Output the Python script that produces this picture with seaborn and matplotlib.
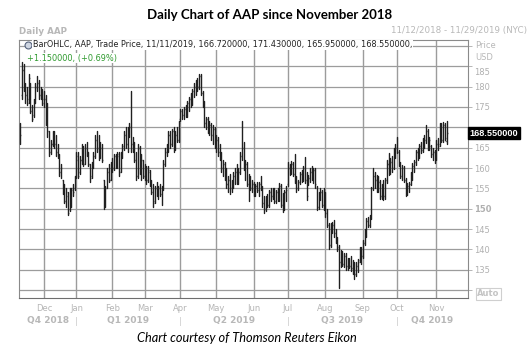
import numpy as np
import pandas as pd
import matplotlib
matplotlib.use("Agg")
import matplotlib.pyplot as plt
import matplotlib.transforms as mtransforms
import seaborn as sns

# ---------------- data ----------------
holidays = ["2018-11-22", "2018-12-05", "2018-12-25", "2019-01-01", "2019-01-21",
            "2019-02-18", "2019-04-19", "2019-05-27", "2019-07-04", "2019-09-02"]

opens = [169, 178, 184, 180, 178, 177, 180, 174, 173, 176, 180, 181, 178, 179,
         177, 177, 171, 169, 164, 166, 168, 166, 164, 163, 159, 157, 154, 152, 153, 150, 153, 155, 155,
         158, 162, 159, 162, 165, 161, 165, 164, 161, 158, 161, 163, 167, 165, 163, 165, 157, 151, 155, 159, 157,
         161, 160, 163, 161, 163, 159, 164, 165, 168, 166, 168, 170, 166, 165, 162, 158, 165, 159, 162,
         158, 160, 157, 159, 156, 154, 152, 155, 154, 155, 153.5, 155, 161, 164, 165, 168, 166, 169, 165, 168, 167,
         172, 174, 173, 174.5, 173, 176, 177, 176, 179, 180, 181, 180, 182.5, 178.5, 176, 171, 172, 169, 170.5, 168, 169.5,
         166, 167, 164, 163, 160, 161, 158, 156, 157, 155, 156.5, 158, 159, 157, 159, 163, 165, 160, 161, 156, 157, 155,
         156, 154, 155.5, 154.5, 156, 155, 151.5, 150, 152, 151, 154, 153, 154.5, 152, 154, 153, 155.5, 151, 150, 154,
         156, 160, 159, 161, 158.5, 157, 155, 156.5, 158.5, 157, 160, 157, 156, 157.5, 159, 158, 159.5, 155, 150.5, 153.5, 154, 151,
         153, 149, 146, 141, 145.5, 146, 144, 142, 140, 137, 138, 136.5, 138.5, 136, 137.5, 136, 135.5, 136.5, 134, 136, 137.5, 140,
         138.5, 141.5, 144.5, 147, 146, 148, 155, 158, 157, 155, 156.5, 153, 155.5, 153, 157, 161, 159, 161.5, 160, 164,
         165, 164, 161, 158, 160, 157, 154, 155.5, 156, 158.5, 160.5, 161.5, 164, 163, 165.5, 164.5, 166.5, 167, 169, 165, 165.5, 163.5, 164,
         162.5, 166, 166, 170, 167, 170.5, 166.72]

highs = [171, 186, 185.5, 181, 180, 183, 181, 175.5, 177, 181, 182.5, 181.5, 180, 179.5,
         179, 178, 176, 169, 167, 169, 169, 168, 166, 163.5, 161, 157, 156, 155, 154, 155, 155, 156, 158,
         164, 164, 163, 166, 165.5, 166, 166.5, 164, 161, 161.5, 164, 168, 169, 168, 166.5, 166, 157, 155.5, 160, 161, 161.5,
         162.5, 163.5, 163.5, 164, 164, 164, 166, 169, 170, 170, 171, 179, 167.5, 166.5, 164, 166, 165.5, 163.5, 162,
         161, 160.5, 160.5, 159.5, 157, 156, 155.5, 156.5, 155.5, 156, 155.5, 162, 165, 166, 169, 169, 169.5, 170, 169, 170, 171.5,
         174.5, 174.5, 175, 175.5, 176.5, 177.5, 178.5, 179.5, 181, 181.5, 182, 183, 183, 179, 176.5, 172.5, 172.5, 171.5, 171, 170.5, 170,
         168, 167.5, 166, 164, 162, 161.5, 160, 158, 158.5, 157, 159, 160, 161, 160, 164, 171.5, 166.5, 162, 161.5, 158.5, 158, 157,
         156.5, 156, 156.5, 156.5, 158, 155.5, 153, 153, 153.5, 154.5, 155, 155, 155, 154.5, 155, 156.3, 156, 153.8, 154.5, 155.5,
         161.5, 161, 161.6, 161.5, 163.5, 158, 157, 159, 159.5, 160.4, 162.8, 159, 158.3, 160, 160.4, 160, 160, 155.5, 154.2, 155, 154.5, 155,
         154, 150, 146.5, 146.4, 146.8, 147.2, 145, 143, 141, 139.8, 139.5, 139, 139, 138, 138, 138.5, 137.3, 137, 137, 137.7, 140.6, 140.5,
         142.2, 145, 147.6, 148, 148.5, 155.4, 159.9, 159, 158.3, 158, 157, 156, 157, 157.5, 162, 163.6, 162.4, 163, 164.8, 166,
         167.7, 164.4, 161.5, 160.8, 160.5, 157.5, 156.2, 156.5, 159.1, 161.2, 162, 164.4, 164.8, 166, 166.5, 167.3, 168, 170.6, 169.5, 167.5, 165.7, 165, 164.4,
         166.9, 167.3, 171, 171, 171.2, 171, 171.43]

lows = [166, 177, 179, 176, 175.5, 176, 173.5, 171.5, 172.5, 176, 179, 177, 177, 175.5,
        175, 170.5, 167.5, 163, 163.5, 165.5, 165, 163, 162.5, 158, 157.5, 153.5, 151.5, 150.5, 148.5, 149.5, 150.5, 153, 154.5,
        157.5, 157.5, 158.5, 161, 160.5, 161, 163, 160.5, 156.5, 157.5, 160, 162.5, 164, 162, 162.5, 161.5, 150, 150.5, 155, 156.5, 157,
        159, 159.5, 160, 160, 158, 159, 162.5, 164.5, 165, 164, 167.5, 164, 164, 161.5, 157, 157.5, 158.5, 157, 157.5,
        157, 156, 156.5, 155.5, 153.5, 150.5, 151.5, 153, 152.5, 153, 151, 154.5, 160.5, 163, 164, 165, 165.5, 164, 164.5, 166.5, 166.5,
        171.5, 172, 172, 172.5, 172.5, 174, 175, 175.5, 177.5, 178, 179, 179.5, 178, 175, 170, 169.5, 168.5, 168, 167, 166, 165,
        164, 163, 162, 159, 158, 157, 155, 154, 153.5, 154, 155, 156, 156, 156, 158.5, 162, 159.5, 157, 155.5, 152, 154.5, 154,
        153, 153, 154, 153, 154.5, 150.5, 149, 149.5, 150.5, 150.5, 152, 152.5, 151.5, 151.5, 152, 152, 150.5, 149.3, 149.7, 152,
        155.5, 158.3, 158.5, 158, 156.2, 154.2, 154.5, 156, 156.6, 156.8, 156.2, 152.1, 155.8, 156.6, 157, 156.2, 155, 149.7, 150, 152.1, 150.5, 149.7,
        148, 145.6, 140, 140.5, 144, 143, 141.5, 139.5, 130.5, 135.7, 136, 135.7, 135, 135, 135.5, 134.8, 134, 132.8, 133.5, 134.5, 137, 136.5,
        138, 141, 143.1, 145.6, 145.5, 147.5, 154.5, 155, 154.2, 154, 152.5, 152.5, 152.1, 152.5, 156.2, 158.3, 158.5, 159, 159.8, 162.4,
        163.6, 160.4, 157.5, 157.1, 156.6, 153, 153.4, 154, 155.8, 157, 159, 160.8, 162, 162.5, 163.6, 164, 165, 166.1, 164.4, 164.4, 162.8, 162, 161.2,
        162, 164.4, 165.5, 166.5, 166.5, 167, 165.95]

closes = [168, 184, 180, 178, 176, 182, 174, 172, 176, 180, 181, 178, 179, 176,
          177, 171, 169, 164, 166, 168, 166, 164, 163, 159, 160, 154, 152, 154, 149, 155, 154.5, 154, 157.5,
          163, 158, 162, 165, 161, 165, 164, 161, 157.5, 161, 163, 167, 165, 163, 165, 162, 151, 155, 159, 157, 161,
          160, 163, 161, 163.5, 159, 163.5, 165.5, 168, 166, 168, 170, 166, 165, 162, 158, 165, 159, 162, 158,
          160, 157, 159.5, 156, 154, 151.5, 155, 154, 155, 153.5, 155, 161, 164, 165, 168, 166, 169, 165, 168, 167, 171,
          174, 173, 174.5, 173, 176, 177, 176, 179, 180, 181, 180, 182.5, 178.5, 176, 171, 172, 169, 170.5, 168, 169.5, 166,
          167, 164, 163, 160, 161, 158, 156, 157, 155, 156.5, 158, 159, 157, 159, 163, 165, 160, 161, 156, 157, 155, 156,
          154, 155.5, 154.5, 156, 155, 151.5, 150, 152, 151, 154, 153, 154.5, 152, 154, 153, 155.5, 151, 150, 154, 154.5,
          160, 159, 161, 158.5, 157, 155, 156.5, 158.5, 157, 160, 157, 153, 157.5, 159, 158, 159.5, 156, 150.5, 153.5, 154, 151, 153,
          149, 146, 141, 145.5, 146, 144, 142, 140.5, 137, 138, 136.5, 138.5, 136, 137.5, 136, 135.5, 136.5, 134, 136, 137, 140, 138.5,
          141.5, 144.5, 147, 146, 148, 155, 158, 157, 155, 156.5, 153, 155.5, 153, 157, 161, 159, 161.5, 160, 164, 165,
          164, 161, 158, 160, 157, 154, 155.5, 156, 158.5, 160.5, 161.5, 164, 163, 165.5, 164.5, 166.5, 167, 169, 165, 167, 163.5, 164, 162,
          166, 165.5, 170, 167, 170.5, 167.4, 168.55]

month_labels = ["Dec", "Jan", "Feb", "Mar", "Apr", "May", "Jun", "Jul", "Aug", "Sep", "Oct", "Nov"]
quarter_labels = ["Q4 2018", "Q1 2019", "Q2 2019", "Q3 2019", "Q4 2019"]
y_ticks = [130, 135, 140, 145, 150, 155, 160, 165, 170, 175, 180, 185, 190]
y_tick_labels = ["", "135", "140", "145", "150", "155", "160", "165", "", "175", "180", "185", ""]
last_price = 168.55

# ---------------- build ----------------
n = len(closes)
dates = pd.bdate_range("2018-11-12", "2019-11-29", freq="C", holidays=holidays)
idx = np.arange(n)
dates_all = pd.Series(dates)
period = dates_all.dt.to_period("M")
first_of_month = dates_all.groupby(period).head(1)
month_pos = [i for i in first_of_month.index if i > 0]

long_df = pd.DataFrame({
    "bar": np.repeat(idx, 2),
    "x": np.repeat(idx, 2),
    "price": np.ravel(np.column_stack([lows, highs])),
})

sns.set_theme(style="white")
plt.rcParams["font.family"] = ["DejaVu Sans"]

W, H = 531, 355
fig = plt.figure(figsize=(W / 100, H / 100), dpi=100)
L, R, T, B = 19, 468, 40, 298
ax = fig.add_axes([L / W, 1 - B / H, (R - L) / W, (B - T) / H])

x_max = 262.6
ax.set_xlim(-0.65, x_max)
ax.set_ylim(128.06, 191.45)

# grid
grid_c = "#9c9c9c"
for y in y_ticks:
    ax.axhline(y, color=grid_c, lw=0.9, zorder=0)
for i in month_pos:
    ax.axvline(i, color=grid_c, lw=1.0, zorder=0)

# OHLC bars
sns.lineplot(data=long_df, x="x", y="price", units="bar", estimator=None, sort=False,
             color="#202020", lw=1.0, ax=ax, legend=False, zorder=3)
ax.hlines(opens, idx - 0.6, idx, color="#7a7a7a", lw=1.0, zorder=2)
ax.hlines(closes, idx, idx + 0.6, color="#7a7a7a", lw=1.0, zorder=2)

for s in ax.spines.values():
    s.set_color("#8a8a8a")
    s.set_linewidth(0.8)
ax.spines["bottom"].set_color("#6e6e6e")

# axes ticks
ax.set_xlabel("")
ax.set_ylabel("")
ax.set_xticks(month_pos)
ax.set_xticklabels(month_labels)
ax.tick_params(axis="x", length=0, pad=4, labelsize=6, labelcolor="#b5b5b5")
ax.yaxis.tick_right()
ax.set_yticks(y_ticks)
ax.set_yticklabels(y_tick_labels)
ax.tick_params(axis="y", right=True, length=3, width=0.7, color="#b5b5b5", pad=1.5,
               labelsize=6, labelcolor="#b0b0b0")
for lab in ax.get_yticklabels():
    if lab.get_text() == "150":
        lab.set_fontweight("bold")
    if lab.get_text() == "185":
        lab.set_transform(lab.get_transform() +
                          mtransforms.ScaledTranslation(0, -5 / 100, fig.dpi_scale_trans))

def fx(x):
    return x / W

def fy(y):
    return 1 - y / H

# title and header texts
fig.text(fx(270), fy(15), "Daily Chart of AAP since November 2018", ha="center", va="center",
         fontsize=9.5, fontweight="bold", family=["Lato", "DejaVu Sans"], color="black")
fig.text(fx(19), fy(31), "Daily AAP", ha="left", va="center", fontsize=6.3,
         fontweight="bold", color="#b8b8b8")
fig.text(fx(527), fy(31), "11/12/2018 - 11/29/2019 (NYC)", ha="right", va="center",
         fontsize=6.3, color="#b8b8b8")

# legend text
ax.plot([0.0195], [0.981], transform=ax.transAxes, marker="o", ms=5, mfc="#cfd6e2",
        mec="#55627c", mew=0.8, clip_on=False, zorder=6)
fig.text(fx(33), fy(45), "BarOHLC, AAP, Trade Price, 11/11/2019, 166.720000, 171.430000, 165.950000, 168.550000,",
         ha="left", va="center", fontsize=5.9, color="#222222",
         bbox=dict(facecolor="white", edgecolor="none", pad=0.6), zorder=5)
fig.text(fx(27), fy(58), "+1.150000, (+0.69%)", ha="left", va="center", fontsize=5.9,
         color="#2e9a2e", bbox=dict(facecolor="white", edgecolor="none", pad=0.3), zorder=5)

# right side labels
fig.text(fx(475), fy(46), "Price", ha="left", va="center", fontsize=6, color="#b8b8b8")
fig.text(fx(475), fy(58), "USD", ha="left", va="center", fontsize=6, color="#b8b8b8")
trans = mtransforms.blended_transform_factory(ax.transAxes, ax.transData)
ax.text(1.004, last_price, "168.550000", transform=trans, ha="left", va="center",
        fontsize=6.6, fontweight="bold", color="white", family=["Liberation Sans", "DejaVu Sans"],
        bbox=dict(facecolor="black", edgecolor="black", pad=1.2), clip_on=False, zorder=7)
fig.text(fx(477), fy(294), "Auto", ha="left", va="center", fontsize=6, fontweight="bold",
         color="#c4c4c4", bbox=dict(facecolor="white", edgecolor="#cfcfcf", pad=1.0, lw=0.8))

# quarter labels
xpix = lambda i: L + (i + 0.65) / (x_max + 0.65) * (R - L)
q_starts = [month_pos[1], month_pos[4], month_pos[7], month_pos[10]]
edges = [L] + [xpix(i) for i in q_starts] + [R]
for k, lab in enumerate(quarter_labels):
    cx = (edges[k] + edges[k + 1]) / 2
    fig.text(fx(cx), fy(321), lab, ha="center", va="center", fontsize=6.5,
             fontweight="bold", color="#b8b8b8")
for e in edges[1:-1]:
    fig.text(fx(e), fy(321), "|", ha="center", va="center", fontsize=6.5, color="#cccccc")

# caption
fig.text(fx(247), fy(338), "Chart courtesy of Thomson Reuters Eikon", ha="center", va="center",
         fontsize=9.2, style="italic", family=["Lato", "DejaVu Sans"], color="black")

fig.savefig("out.png", dpi=100)
